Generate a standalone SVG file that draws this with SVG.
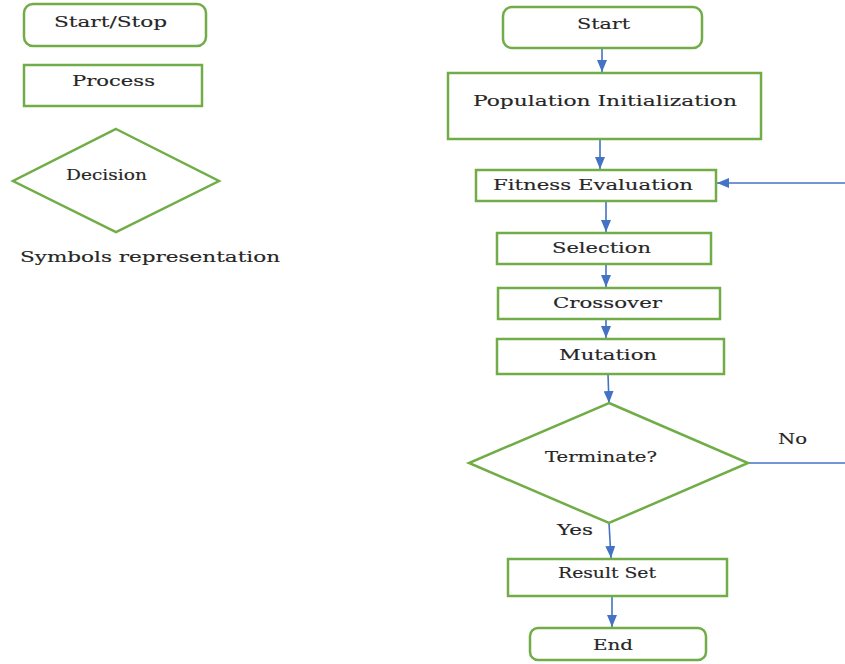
<svg xmlns="http://www.w3.org/2000/svg" width="845" height="664" viewBox="0 0 845 664">
  <style>
    .shape { fill: #ffffff; stroke: #70AD47; stroke-width: 2.5; }
    .conn { fill: none; stroke: #4472C4; stroke-width: 1.6; }
    .lbl { font-family: "DejaVu Serif", "Liberation Serif", serif; font-size: 15px; fill: #262626; stroke: #262626; stroke-width: 0.15; text-anchor: middle; }
    .sm { font-size: 14px; }
  </style>
  <defs>
    <marker id="arrow" markerUnits="userSpaceOnUse" markerWidth="12" markerHeight="10" viewBox="0 0 12 10" refX="12" refY="5" orient="auto">
      <path d="M0,0 L12,5 L0,10 Z" fill="#4472C4"/>
    </marker>
  </defs>
  <rect width="845" height="664" fill="#ffffff"/>

  <!-- legend -->
  <g id="legend-start-stop">
    <rect class="shape" x="24" y="4" width="182" height="42" rx="9"/>
    <text class="lbl" x="110.5" y="27" textLength="113" lengthAdjust="spacingAndGlyphs">Start/Stop</text>
  </g>
  <g id="legend-process">
    <rect class="shape" x="24" y="65" width="178" height="41"/>
    <text class="lbl" x="113.5" y="86" textLength="83" lengthAdjust="spacingAndGlyphs">Process</text>
  </g>
  <g id="legend-decision">
    <polygon class="shape" points="116,129 219,181 116,232 13,181"/>
    <text class="lbl sm" x="106.5" y="180" textLength="81" lengthAdjust="spacingAndGlyphs">Decision</text>
  </g>
  <g id="legend-caption">
    <text class="lbl" x="150" y="262" textLength="260" lengthAdjust="spacingAndGlyphs">Symbols representation</text>
  </g>

  <!-- connectors -->
  <g id="connectors">
    <line class="conn" x1="602" y1="48" x2="602" y2="72" marker-end="url(#arrow)"/>
    <line class="conn" x1="600" y1="139" x2="600" y2="169" marker-end="url(#arrow)"/>
    <line class="conn" x1="845" y1="183" x2="717" y2="183" marker-end="url(#arrow)"/>
    <line class="conn" x1="606" y1="201" x2="606" y2="232" marker-end="url(#arrow)"/>
    <line class="conn" x1="606" y1="264" x2="606" y2="287" marker-end="url(#arrow)"/>
    <line class="conn" x1="606" y1="319" x2="606" y2="338" marker-end="url(#arrow)"/>
    <line class="conn" x1="608" y1="374" x2="609" y2="403" marker-end="url(#arrow)"/>
    <line class="conn" x1="748" y1="463" x2="845" y2="463"/>
    <line class="conn" x1="609" y1="523" x2="611" y2="558" marker-end="url(#arrow)"/>
    <line class="conn" x1="612" y1="596" x2="612" y2="627" marker-end="url(#arrow)"/>
    <text class="lbl" x="792.5" y="444" textLength="29" lengthAdjust="spacingAndGlyphs">No</text>
    <text class="lbl" x="575" y="535" textLength="36" lengthAdjust="spacingAndGlyphs">Yes</text>
  </g>

  <!-- flow -->
  <g id="start">
    <rect class="shape" x="503" y="7" width="199" height="41" rx="9"/>
    <text class="lbl" x="603.5" y="29" textLength="53" lengthAdjust="spacingAndGlyphs">Start</text>
  </g>
  <g id="population-init">
    <rect class="shape" x="448" y="73" width="313" height="66"/>
    <text class="lbl" x="605" y="106" textLength="264" lengthAdjust="spacingAndGlyphs">Population Initialization</text>
  </g>
  <g id="fitness">
    <rect class="shape" x="476" y="170" width="240" height="31"/>
    <text class="lbl" x="593" y="190" textLength="200" lengthAdjust="spacingAndGlyphs">Fitness Evaluation</text>
  </g>
  <g id="selection">
    <rect class="shape" x="497" y="233" width="214" height="31"/>
    <text class="lbl" x="601.5" y="253" textLength="99" lengthAdjust="spacingAndGlyphs">Selection</text>
  </g>
  <g id="crossover">
    <rect class="shape" x="498" y="288" width="222" height="31"/>
    <text class="lbl" x="607.5" y="308" textLength="109" lengthAdjust="spacingAndGlyphs">Crossover</text>
  </g>
  <g id="mutation">
    <rect class="shape" x="497" y="339" width="227" height="35"/>
    <text class="lbl" x="608" y="360" textLength="98" lengthAdjust="spacingAndGlyphs">Mutation</text>
  </g>
  <g id="terminate">
    <polygon class="shape" points="609,403 748,463 609,523 469,463"/>
    <text class="lbl sm" x="601" y="462" textLength="112" lengthAdjust="spacingAndGlyphs">Terminate?</text>
  </g>
  <g id="result-set">
    <rect class="shape" x="508" y="559" width="219" height="37"/>
    <text class="lbl sm" x="607" y="578" textLength="98" lengthAdjust="spacingAndGlyphs">Result Set</text>
  </g>
  <g id="end">
    <rect class="shape" x="530" y="628" width="176" height="32" rx="8"/>
    <text class="lbl" x="613" y="650" textLength="40" lengthAdjust="spacingAndGlyphs">End</text>
  </g>
</svg>
